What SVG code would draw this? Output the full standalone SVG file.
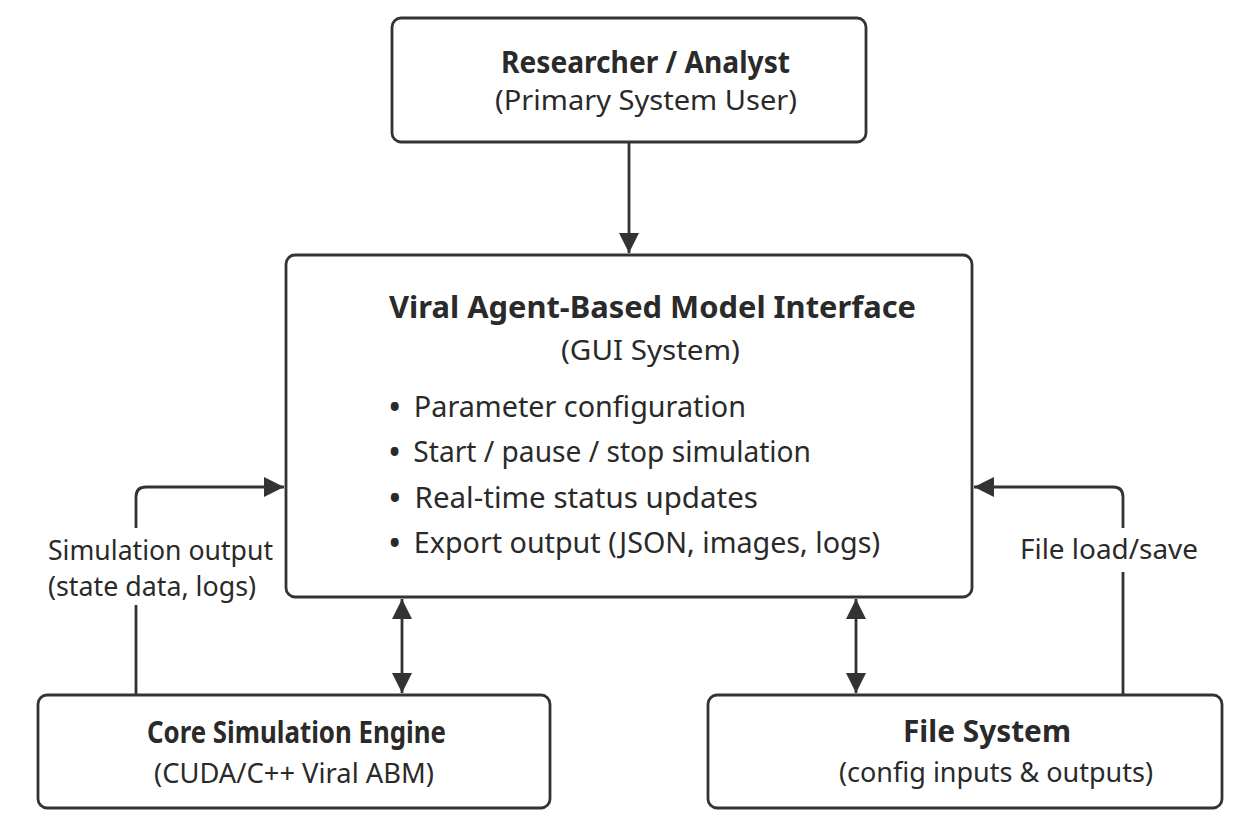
<svg xmlns="http://www.w3.org/2000/svg" width="1249" height="824" viewBox="0 0 1249 824">
  <style>
    .box { fill: #ffffff; stroke: #333333; stroke-width: 2.8; }
    .link { fill: none; stroke: #333333; stroke-width: 2.8; }
    text { font-family: "Noto Sans", "Open Sans", "DejaVu Sans", sans-serif; fill: #2a2a2a; }
    .title { font-weight: 700; font-size: 31px; }
    .sub { font-size: 28px; }
    .item { font-size: 29px; }
    .dot { font-size: 36px; }
    .label { font-size: 28px; }
  </style>
  <defs>
    <marker id="head" viewBox="0 0 20 20" refX="20" refY="10" markerWidth="20" markerHeight="20" markerUnits="userSpaceOnUse" orient="auto-start-reverse">
      <path d="M0,0 L20,10 L0,20 Z" fill="#333333"/>
    </marker>
  </defs>
  <rect width="1249" height="824" fill="#ffffff"/>

  <g id="connectors">
    <!-- user to GUI -->
    <path class="link" d="M629,142 V253" marker-end="url(#head)"/>
    <!-- GUI <-> engine -->
    <path class="link" d="M402,599 V693" marker-start="url(#head)" marker-end="url(#head)"/>
    <!-- GUI <-> file system -->
    <path class="link" d="M856,599 V693" marker-start="url(#head)" marker-end="url(#head)"/>
    <!-- engine output feedback -->
    <path class="link" d="M136,695 V605"/>
    <path class="link" d="M136,528 V497 Q136,487 146,487 H284" marker-end="url(#head)"/>
    <text class="label" x="48" y="560" textLength="225" lengthAdjust="spacingAndGlyphs">Simulation output</text>
    <text class="label" x="48" y="596" textLength="208" lengthAdjust="spacingAndGlyphs">(state data, logs)</text>
    <!-- file load/save -->
    <path class="link" d="M1123,695 V572"/>
    <path class="link" d="M1123,528 V497 Q1123,487 1113,487 H974" marker-end="url(#head)"/>
    <text class="label" x="1020" y="559" textLength="178" lengthAdjust="spacingAndGlyphs">File load/save</text>
  </g>

  <g id="researcher">
    <rect class="box" x="392" y="18" width="474" height="124" rx="9"/>
    <text class="title" x="501" y="73" textLength="289" lengthAdjust="spacingAndGlyphs">Researcher / Analyst</text>
    <text class="sub" x="495" y="110" textLength="302" lengthAdjust="spacingAndGlyphs">(Primary System User)</text>
  </g>

  <g id="gui">
    <rect class="box" x="286" y="255" width="686" height="342" rx="9"/>
    <text class="title" x="389" y="318" textLength="527" lengthAdjust="spacingAndGlyphs">Viral Agent-Based Model Interface</text>
    <text class="sub" x="561" y="360" textLength="179" lengthAdjust="spacingAndGlyphs">(GUI System)</text>
    <text class="item" x="388" y="417" textLength="358" lengthAdjust="spacingAndGlyphs"><tspan class="dot" dy="3">•</tspan><tspan dy="-3" dx="5"> Parameter configuration</tspan></text>
    <text class="item" x="388" y="462" textLength="423" lengthAdjust="spacingAndGlyphs"><tspan class="dot" dy="3">•</tspan><tspan dy="-3" dx="5"> Start / pause / stop simulation</tspan></text>
    <text class="item" x="388" y="508" textLength="370" lengthAdjust="spacingAndGlyphs"><tspan class="dot" dy="3">•</tspan><tspan dy="-3" dx="5"> Real-time status updates</tspan></text>
    <text class="item" x="388" y="553" textLength="492" lengthAdjust="spacingAndGlyphs"><tspan class="dot" dy="3">•</tspan><tspan dy="-3" dx="5"> Export output (JSON, images, logs)</tspan></text>
  </g>

  <g id="engine">
    <rect class="box" x="38" y="695" width="512" height="113" rx="9"/>
    <text class="title" x="147" y="743" textLength="299" lengthAdjust="spacingAndGlyphs">Core Simulation Engine</text>
    <text class="sub" x="154" y="783" textLength="280" lengthAdjust="spacingAndGlyphs">(CUDA/C++ Viral ABM)</text>
  </g>

  <g id="filesystem">
    <rect class="box" x="708" y="695" width="514" height="113" rx="9"/>
    <text class="title" x="903" y="742" textLength="168" lengthAdjust="spacingAndGlyphs">File System</text>
    <text class="sub" x="839" y="782" textLength="314" lengthAdjust="spacingAndGlyphs">(config inputs &amp; outputs)</text>
  </g>
</svg>
